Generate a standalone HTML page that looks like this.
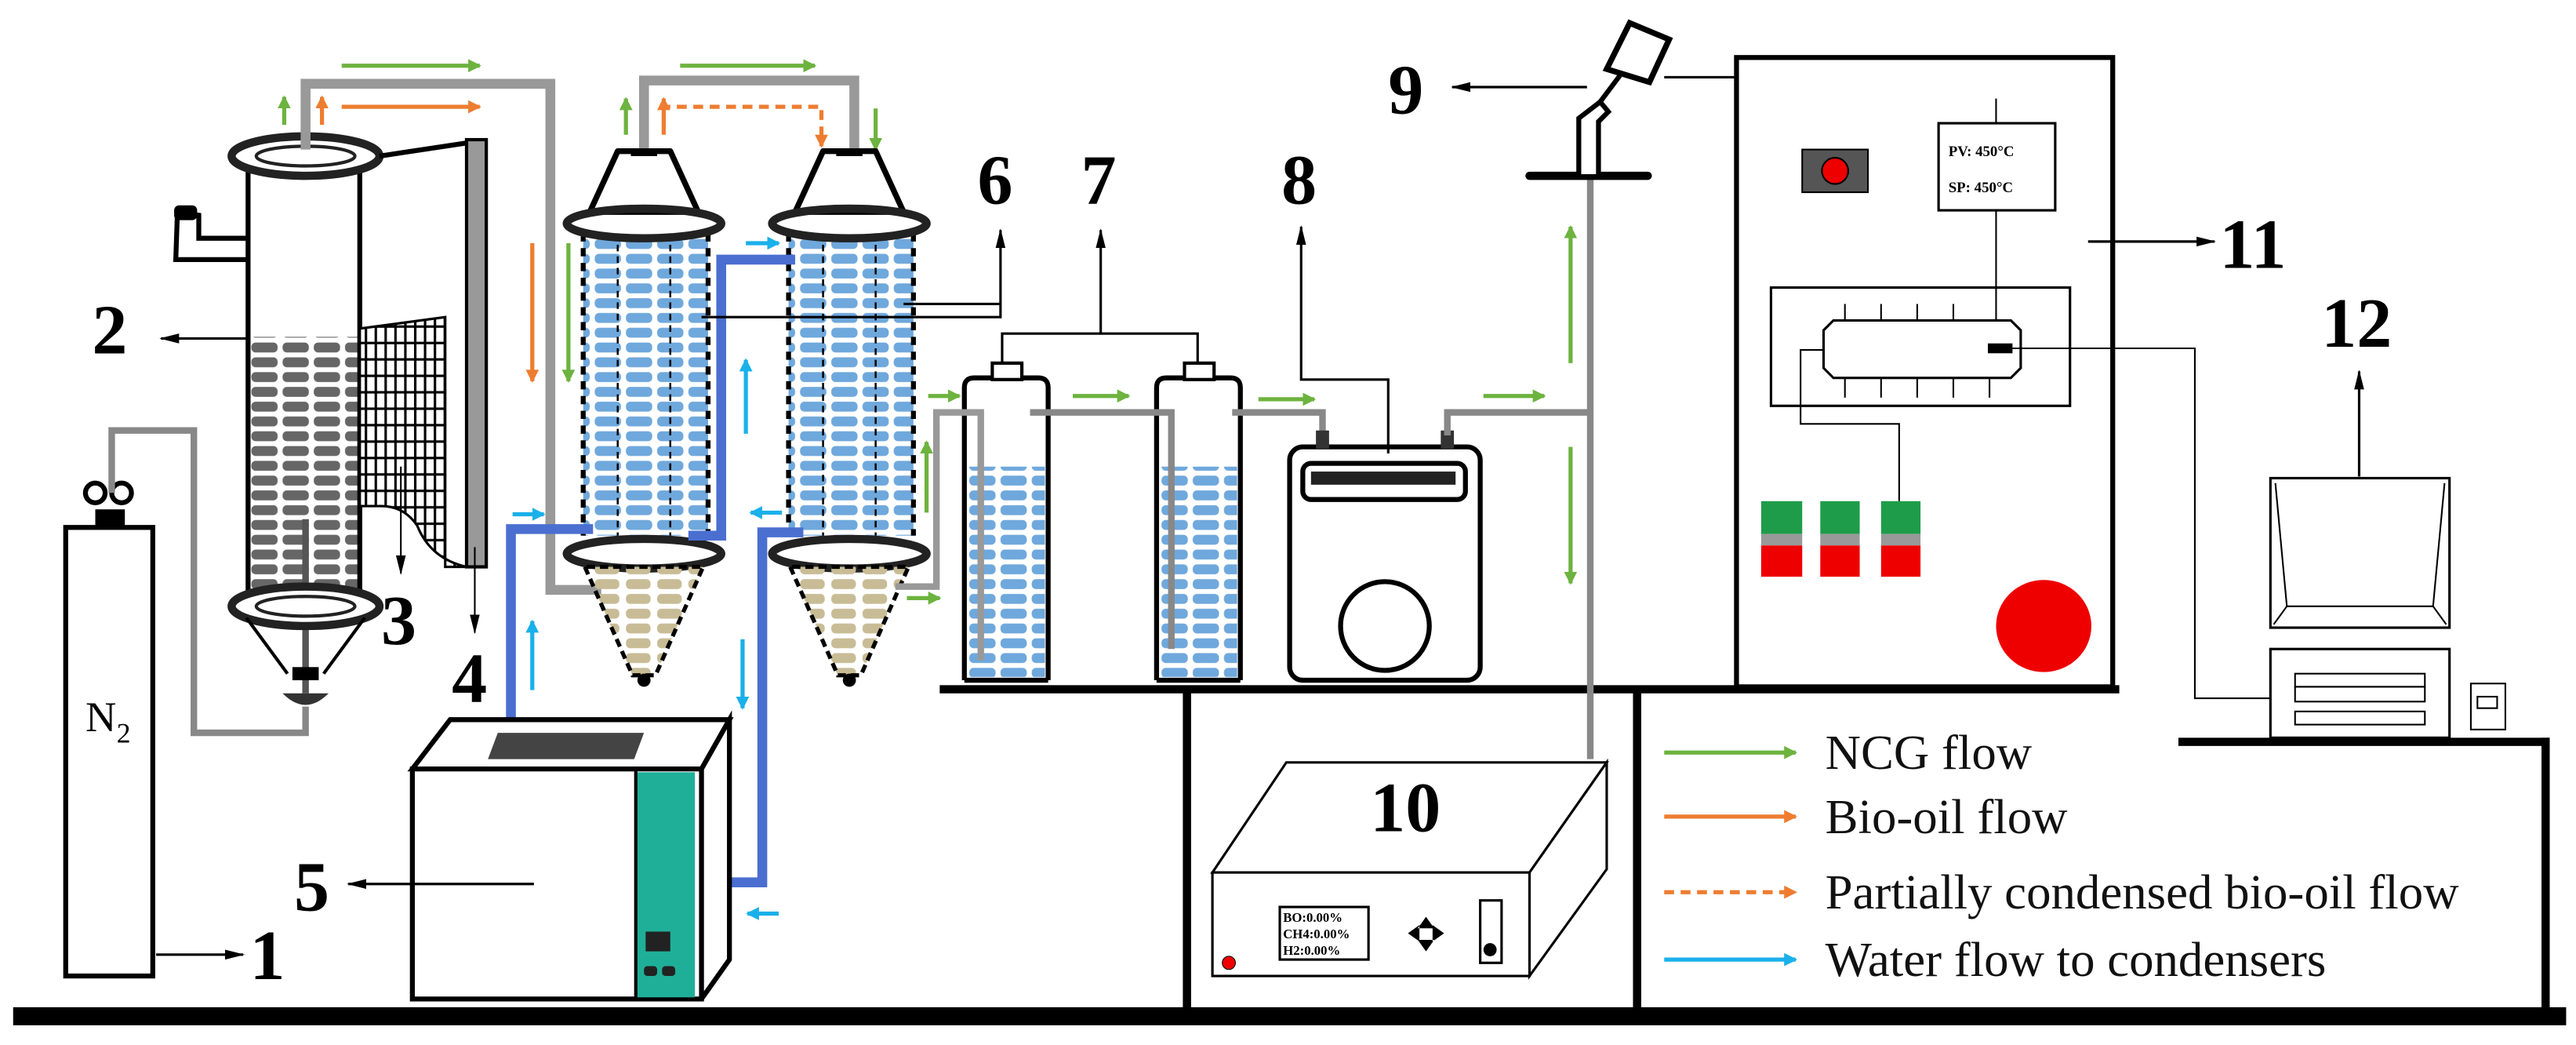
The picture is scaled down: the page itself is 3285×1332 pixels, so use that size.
<!DOCTYPE html>
<html><head><meta charset="utf-8"><style>
html,body{margin:0;padding:0;background:#fff;}
svg{display:block;}
text{font-family:"Liberation Serif",serif;}
.n{font-weight:bold;font-size:43px;fill:#000;}
.lg{font-size:30px;fill:#111;}
</style></head><body>
<svg width="3285" height="1332" viewBox="0 0 1568 636" preserveAspectRatio="none" xmlns="http://www.w3.org/2000/svg">
<defs>
<marker id="mg" markerWidth="8" markerHeight="8" refX="7" refY="4" orient="auto" markerUnits="userSpaceOnUse"><path d="M0,0 L8,4 L0,8 Z" fill="#6db33f"/></marker>
<marker id="mo" markerWidth="8" markerHeight="8" refX="7" refY="4" orient="auto" markerUnits="userSpaceOnUse"><path d="M0,0 L8,4 L0,8 Z" fill="#ee7d31"/></marker>
<marker id="mc" markerWidth="8" markerHeight="8" refX="7" refY="4" orient="auto" markerUnits="userSpaceOnUse"><path d="M0,0 L8,4 L0,8 Z" fill="#1ab0ea"/></marker>
<marker id="mk" markerWidth="12" markerHeight="8" refX="11" refY="4" orient="auto" markerUnits="userSpaceOnUse"><path d="M0,1 L12,4 L0,7 Z" fill="#000"/></marker>
<pattern id="pb" width="19" height="9" patternUnits="userSpaceOnUse"><rect x="1" y="1.5" width="16" height="6" rx="2.5" fill="#6fa8dc"/></pattern>
<pattern id="pg" width="19" height="9" patternUnits="userSpaceOnUse"><rect x="1" y="1.5" width="16" height="6" rx="2.5" fill="#666"/></pattern>
<pattern id="pt" width="19" height="9" patternUnits="userSpaceOnUse"><rect x="1" y="1.5" width="15" height="6" rx="2.5" fill="#c8bc96"/></pattern>
<pattern id="pgrid" width="6" height="10" patternUnits="userSpaceOnUse"><rect width="6" height="10" fill="#fff"/><rect x="0" y="0" width="1.5" height="10" fill="#000"/><rect x="0" y="8" width="6" height="1.5" fill="#000"/></pattern>
</defs>

<!-- floor & shelves -->
<rect x="8" y="613" width="1554" height="11" fill="#000"/>
<rect x="572" y="417" width="718" height="5" fill="#000"/>
<rect x="720" y="420" width="5" height="196" fill="#000"/>
<rect x="994" y="420" width="5" height="196" fill="#000"/>
<rect x="1326" y="449" width="226" height="5" fill="#000"/>
<rect x="1547" y="449" width="5" height="166" fill="#000"/>

<!-- N2 cylinder -->
<rect x="40" y="321" width="53" height="273" fill="#fff" stroke="#000" stroke-width="3"/>
<rect x="58" y="310" width="18" height="11" fill="#000"/>
<circle cx="58" cy="300" r="6" fill="none" stroke="#000" stroke-width="3"/>
<circle cx="74" cy="300" r="6" fill="none" stroke="#000" stroke-width="3"/>
<path d="M68,300 L68,262 L118,262 L118,446 L186,446 L186,430" fill="none" stroke="#888" stroke-width="4"/>
<text x="52" y="445" font-size="26" fill="#000">N</text><text x="71" y="452" font-size="17" fill="#000">2</text>
<line x1="95" y1="581" x2="148" y2="581" stroke="#000" stroke-width="1.5" marker-end="url(#mk)"/>
<text class="n" x="152" y="596">1</text>

<!-- Reactor -->
<rect x="151" y="205" width="68" height="156" fill="url(#pg)"/>
<line x1="151" y1="103" x2="151" y2="365" stroke="#000" stroke-width="3"/>
<line x1="219" y1="103" x2="219" y2="365" stroke="#000" stroke-width="3"/>
<path d="M151,145 L121,145 L121,131 L108,129 L107,158 L151,158" fill="none" stroke="#000" stroke-width="3"/>
<rect x="106" y="125" width="14" height="9" rx="3" fill="#000"/>
<ellipse cx="186" cy="95" rx="45" ry="12" fill="#fff" stroke="#222" stroke-width="5"/>
<ellipse cx="186" cy="95" rx="30" ry="6" fill="none" stroke="#222" stroke-width="2"/>
<line x1="186" y1="316" x2="186" y2="422" stroke="#555" stroke-width="4"/>
<ellipse cx="186" cy="369" rx="45" ry="12" fill="#fff" stroke="#222" stroke-width="5"/>
<ellipse cx="186" cy="369" rx="30" ry="6" fill="none" stroke="#222" stroke-width="2"/>
<path d="M150,376 L175,410 M222,376 L197,410" stroke="#000" stroke-width="2"/>
<rect x="178" y="406" width="16" height="8" fill="#000"/>
<path d="M172,422 Q186,436 200,422 Z" fill="#333"/>
<!-- furnace -->
<line x1="231" y1="95" x2="284" y2="87" stroke="#000" stroke-width="3"/>
<rect x="284" y="85" width="12" height="260" fill="#999" stroke="#000" stroke-width="2"/>
<path d="M219,200 L271,193 L271,345 L284,345 Q262,340 254,320 Q246,308 232,308 L219,308 Z" fill="url(#pgrid)" stroke="#000" stroke-width="1.5"/>
<line x1="244" y1="284" x2="244" y2="349" stroke="#000" stroke-width="1" marker-end="url(#mk)"/>
<line x1="289" y1="333" x2="289" y2="385" stroke="#000" stroke-width="1" marker-end="url(#mk)"/>
<line x1="150" y1="206" x2="98" y2="206" stroke="#000" stroke-width="1.5" marker-end="url(#mk)"/>
<text class="n" x="56" y="215">2</text>
<text class="n" x="232" y="392">3</text>
<text class="n" x="275" y="427">4</text>

<!-- main gray pipes -->
<path d="M186,91 L186,51 L335,51 L335,359 L366,359" fill="none" stroke="#999" stroke-width="6"/>
<path d="M392,91 L392,49 L520,49 L520,91" fill="none" stroke="#999" stroke-width="6"/>
<line x1="208" y1="40" x2="292" y2="40" stroke="#6db33f" stroke-width="2.5" marker-end="url(#mg)"/>
<line x1="208" y1="65" x2="292" y2="65" stroke="#ee7d31" stroke-width="2.5" marker-end="url(#mo)"/>
<line x1="173" y1="76" x2="173" y2="59" stroke="#6db33f" stroke-width="2.5" marker-end="url(#mg)"/>
<line x1="196" y1="76" x2="196" y2="59" stroke="#ee7d31" stroke-width="2.5" marker-end="url(#mo)"/>
<line x1="324" y1="148" x2="324" y2="232" stroke="#ee7d31" stroke-width="2.5" marker-end="url(#mo)"/>
<line x1="346" y1="148" x2="346" y2="232" stroke="#6db33f" stroke-width="2.5" marker-end="url(#mg)"/>
<line x1="414" y1="40" x2="496" y2="40" stroke="#6db33f" stroke-width="2.5" marker-end="url(#mg)"/>
<path d="M402,65 L500,65 L500,89" fill="none" stroke="#ee7d31" stroke-width="2.5" stroke-dasharray="6,4" marker-end="url(#mo)"/>
<line x1="381" y1="82" x2="381" y2="60" stroke="#6db33f" stroke-width="2.5" marker-end="url(#mg)"/>
<line x1="404" y1="82" x2="404" y2="60" stroke="#ee7d31" stroke-width="2.5" marker-end="url(#mo)"/>
<line x1="533" y1="66" x2="533" y2="91" stroke="#6db33f" stroke-width="2.5" marker-end="url(#mg)"/>

<!-- condensers -->
<g id="c1">
<path d="M376,92 L408,92 L425,129 L359,129 Z" fill="#fff" stroke="#000" stroke-width="3.5" stroke-linejoin="round"/>
<rect x="384" y="92" width="16" height="3" fill="#000"/>
<rect x="355" y="144" width="76" height="182" fill="url(#pb)"/>
<line x1="355" y1="142" x2="355" y2="326" stroke="#000" stroke-width="3" stroke-dasharray="5,4"/>
<line x1="431" y1="142" x2="431" y2="326" stroke="#000" stroke-width="3" stroke-dasharray="5,4"/>
<line x1="376" y1="142" x2="376" y2="326" stroke="#000" stroke-width="1.2" stroke-dasharray="4,3"/>
<line x1="408" y1="142" x2="408" y2="326" stroke="#000" stroke-width="1.2" stroke-dasharray="4,3"/>
<ellipse cx="392" cy="136" rx="47" ry="9" fill="none" stroke="#222" stroke-width="5"/>
<ellipse cx="392" cy="337" rx="47" ry="9" fill="none" stroke="#222" stroke-width="5"/>
<path d="M356,345 L385,411 L399,411 L428,345 Z" fill="url(#pt)" stroke="#000" stroke-width="2.5" stroke-dasharray="5,3"/>
<circle cx="392" cy="414" r="4" fill="#000"/>
</g>
<use href="#c1" x="125"/>

<!-- blue water pipes -->
<path d="M311,438 L311,322 L361,322" fill="none" stroke="#4a6fd0" stroke-width="6"/>
<path d="M419,326 L439,326 L439,158 L484,158" fill="none" stroke="#4a6fd0" stroke-width="6"/>
<path d="M489,324 L464,324 L464,537 L442,537" fill="none" stroke="#4a6fd0" stroke-width="6"/>
<line x1="324" y1="420" x2="324" y2="378" stroke="#1ab0ea" stroke-width="2.5" marker-end="url(#mc)"/>
<line x1="312" y1="313" x2="331" y2="313" stroke="#1ab0ea" stroke-width="2.5" marker-end="url(#mc)"/>
<line x1="454" y1="264" x2="454" y2="219" stroke="#1ab0ea" stroke-width="2.5" marker-end="url(#mc)"/>
<line x1="454" y1="148" x2="474" y2="148" stroke="#1ab0ea" stroke-width="2.5" marker-end="url(#mc)"/>
<line x1="476" y1="312" x2="457" y2="312" stroke="#1ab0ea" stroke-width="2.5" marker-end="url(#mc)"/>
<line x1="452" y1="389" x2="452" y2="431" stroke="#1ab0ea" stroke-width="2.5" marker-end="url(#mc)"/>
<line x1="474" y1="556" x2="455" y2="556" stroke="#1ab0ea" stroke-width="2.5" marker-end="url(#mc)"/>

<!-- chiller 5 -->
<path d="M251,468 L274,438 L444,438 L427,468 Z" fill="#fff" stroke="#000" stroke-width="3"/>
<path d="M427,468 L444,438 L444,584 L427,608" fill="#fff" stroke="#000" stroke-width="3"/>
<path d="M303,446 L392,446 L386,462 L297,462 Z" fill="#444"/>
<rect x="251" y="468" width="176" height="140" fill="#fff" stroke="#000" stroke-width="3"/>
<rect x="387" y="470" width="36" height="137" fill="#1faf98"/>
<line x1="387" y1="468" x2="387" y2="608" stroke="#000" stroke-width="2"/>
<rect x="393" y="567" width="15" height="12" fill="#222"/>
<rect x="392" y="588" width="8" height="6" rx="2" fill="#222"/><rect x="403" y="588" width="8" height="6" rx="2" fill="#222"/>
<line x1="325" y1="538" x2="212" y2="538" stroke="#000" stroke-width="1.5" marker-end="url(#mk)"/>
<text class="n" x="179" y="554">5</text>

<!-- labels 6 & 7 -->
<path d="M427,193 L609,193 L609,140" fill="none" stroke="#000" stroke-width="1.5" marker-end="url(#mk)"/>
<line x1="550" y1="185" x2="609" y2="185" stroke="#000" stroke-width="1.5"/>
<text class="n" x="595" y="124">6</text>
<path d="M610,221 L610,203 L729,203 L729,221" fill="none" stroke="#000" stroke-width="1.5"/>
<line x1="670" y1="203" x2="670" y2="140" stroke="#000" stroke-width="1.5" marker-end="url(#mk)"/>
<text class="n" x="658" y="124">7</text>

<!-- bottles -->
<g id="b1">
<rect x="589" y="284" width="47" height="128" fill="url(#pb)"/>
<path d="M587,414 L587,236 Q587,230 593,230 L632,230 Q638,230 638,236 L638,414" fill="none" stroke="#000" stroke-width="3"/>
<line x1="587" y1="414" x2="638" y2="414" stroke="#000" stroke-width="3"/>
<rect x="604" y="221" width="18" height="10" fill="#fff" stroke="#000" stroke-width="2"/>
</g>
<use href="#b1" x="117"/>
<path d="M545,357 L570,357 L570,251 L597,251 L597,402" fill="none" stroke="#999" stroke-width="4"/>
<path d="M627,251 L713,251 L713,395" fill="none" stroke="#888" stroke-width="4"/>
<path d="M750,251 L805,251 L805,265" fill="none" stroke="#888" stroke-width="4"/>
<line x1="565" y1="241" x2="584" y2="241" stroke="#6db33f" stroke-width="2.5" marker-end="url(#mg)"/>
<line x1="653" y1="241" x2="687" y2="241" stroke="#6db33f" stroke-width="2.5" marker-end="url(#mg)"/>
<line x1="766" y1="243" x2="800" y2="243" stroke="#6db33f" stroke-width="2.5" marker-end="url(#mg)"/>
<line x1="552" y1="364" x2="572" y2="364" stroke="#6db33f" stroke-width="2.5" marker-end="url(#mg)"/>
<line x1="564" y1="312" x2="564" y2="269" stroke="#6db33f" stroke-width="2.5" marker-end="url(#mg)"/>

<!-- pump 8 -->
<rect x="785" y="272" width="116" height="142" rx="8" fill="#fff" stroke="#000" stroke-width="3"/>
<rect x="793" y="282" width="99" height="22" rx="5" fill="#fff" stroke="#000" stroke-width="3"/>
<rect x="798" y="287" width="88" height="8" fill="#222"/>
<circle cx="843" cy="381" r="27" fill="none" stroke="#000" stroke-width="3"/>
<rect x="801" y="262" width="8" height="11" fill="#333"/><rect x="877" y="262" width="8" height="11" fill="#333"/>
<path d="M881,265 L881,251 L968,251" fill="none" stroke="#888" stroke-width="4"/>
<path d="M845,276 L845,231 L792,231 L792,138" fill="none" stroke="#000" stroke-width="1.5" marker-end="url(#mk)"/>
<text class="n" x="780" y="124">8</text>
<line x1="903" y1="241" x2="940" y2="241" stroke="#6db33f" stroke-width="2.5" marker-end="url(#mg)"/>

<!-- vertical pipe + 9 -->
<line x1="968" y1="100" x2="968" y2="462" stroke="#888" stroke-width="4"/>
<line x1="956" y1="221" x2="956" y2="138" stroke="#6db33f" stroke-width="2.5" marker-end="url(#mg)"/>
<line x1="956" y1="272" x2="956" y2="355" stroke="#6db33f" stroke-width="2.5" marker-end="url(#mg)"/>
<line x1="931" y1="107" x2="1003" y2="107" stroke="#000" stroke-width="5" stroke-linecap="round"/>
<path d="M961,106 L961,72 L974,62 L979,68 L973,74 L973,106" fill="#fff" stroke="#000" stroke-width="3"/>
<path d="M978,42 L992,14 L1016,24 L1004,50 Z" fill="#fff" stroke="#000" stroke-width="3.5"/>
<path d="M974,62 L986,46" stroke="#000" stroke-width="3"/>
<line x1="966" y1="53" x2="884" y2="53" stroke="#000" stroke-width="1.5" marker-end="url(#mk)"/>
<text class="n" x="845" y="69">9</text>
<path d="M1013,47 L1116,47 L1116,91" fill="none" stroke="#000" stroke-width="1.5"/>

<!-- analyzer 10 -->
<path d="M738,531 L783,464 L978,464 L931,531 Z" fill="#fff" stroke="#000" stroke-width="1.5"/>
<path d="M931,531 L978,464 L978,529 L931,594 Z" fill="#fff" stroke="#000" stroke-width="1.5"/>
<rect x="738" y="531" width="193" height="63" fill="#fff" stroke="#000" stroke-width="1.5"/>
<text class="n" x="834" y="506">10</text>
<rect x="779" y="552" width="54" height="32" fill="#fff" stroke="#000" stroke-width="1.5"/>
<text x="781" y="561" font-size="8" font-weight="bold" font-family="Liberation Sans">BO:0.00%</text>
<text x="781" y="571" font-size="8" font-weight="bold" font-family="Liberation Sans">CH4:0.00%</text>
<text x="781" y="581" font-size="8" font-weight="bold" font-family="Liberation Sans">H2:0.00%</text>
<circle cx="748" cy="586" r="4" fill="#e00" stroke="#000" stroke-width="0.5"/>
<path d="M868,558 L863,565 L873,565 Z M868,579 L863,572 L873,572 Z M857,568 L864,563 L864,573 Z M879,568 L872,563 L872,573 Z" fill="#000"/>
<rect x="901" y="548" width="13" height="38" fill="#fff" stroke="#000" stroke-width="1.5"/>
<circle cx="907" cy="578" r="4" fill="#000"/>

<!-- panel 11 -->
<rect x="1057" y="35" width="229" height="383" fill="#fff" stroke="#000" stroke-width="3"/>
<rect x="1097" y="91" width="40" height="26" fill="#555" stroke="#000" stroke-width="1"/>
<circle cx="1117" cy="104" r="8" fill="#e00" stroke="#000" stroke-width="1"/>
<rect x="1180" y="75" width="71" height="53" fill="#fff" stroke="#000" stroke-width="1.5"/>
<text x="1186" y="95" font-size="9" font-weight="bold" font-family="Liberation Sans">PV: 450°C</text>
<text x="1186" y="117" font-size="9" font-weight="bold" font-family="Liberation Sans">SP: 450°C</text>
<line x1="1215" y1="60" x2="1215" y2="75" stroke="#000" stroke-width="1"/>
<line x1="1215" y1="128" x2="1215" y2="210" stroke="#000" stroke-width="1"/>
<rect x="1078" y="175" width="182" height="72" fill="none" stroke="#000" stroke-width="1.5"/>
<path d="M1116,195 L1224,195 L1230,201 L1230,224 L1224,230 L1116,230 L1110,224 L1110,201 Z" fill="#fff" stroke="#000" stroke-width="1.5"/>
<g stroke="#000" stroke-width="1">
<line x1="1123" y1="185" x2="1123" y2="195"/><line x1="1145" y1="185" x2="1145" y2="195"/><line x1="1167" y1="185" x2="1167" y2="195"/><line x1="1189" y1="185" x2="1189" y2="195"/>
<line x1="1123" y1="230" x2="1123" y2="242"/><line x1="1145" y1="230" x2="1145" y2="242"/><line x1="1167" y1="230" x2="1167" y2="242"/><line x1="1189" y1="230" x2="1189" y2="242"/><line x1="1211" y1="230" x2="1211" y2="242"/>
</g>
<rect x="1210" y="209" width="15" height="6" fill="#000"/>
<path d="M1225,212 L1336,212 L1336,425 L1382,425" fill="none" stroke="#000" stroke-width="1"/>
<path d="M1110,213 L1096,213 L1096,258 L1156,258 L1156,305" fill="none" stroke="#000" stroke-width="1"/>
<g>
<rect x="1072" y="305" width="25" height="20" fill="#1e9c4a"/><rect x="1072" y="325" width="25" height="7" fill="#999"/><rect x="1072" y="332" width="25" height="19" fill="#e00"/>
<rect x="1108" y="305" width="24" height="20" fill="#1e9c4a"/><rect x="1108" y="325" width="24" height="7" fill="#999"/><rect x="1108" y="332" width="24" height="19" fill="#e00"/>
<rect x="1145" y="305" width="24" height="20" fill="#1e9c4a"/><rect x="1145" y="325" width="24" height="7" fill="#999"/><rect x="1145" y="332" width="24" height="19" fill="#e00"/>
</g>
<ellipse cx="1244" cy="381" rx="29" ry="28" fill="#e00"/>
<line x1="1271" y1="147" x2="1348" y2="147" stroke="#000" stroke-width="1.5" marker-end="url(#mk)"/>
<text class="n" x="1351" y="163">11</text>

<!-- computer 12 -->
<rect x="1382" y="291" width="109" height="91" fill="#fff" stroke="#000" stroke-width="1.5"/>
<path d="M1385,294 L1392,369 L1481,369 L1488,294 M1392,369 L1384,380 M1481,369 L1489,380" fill="none" stroke="#000" stroke-width="1"/>
<line x1="1436" y1="290" x2="1436" y2="226" stroke="#000" stroke-width="1.5" marker-end="url(#mk)"/>
<text class="n" x="1413" y="211">12</text>
<rect x="1382" y="395" width="109" height="54" fill="#fff" stroke="#000" stroke-width="1.5"/>
<rect x="1397" y="410" width="79" height="8" fill="#fff" stroke="#000" stroke-width="1"/>
<rect x="1397" y="418" width="79" height="9" fill="#fff" stroke="#000" stroke-width="1"/>
<rect x="1397" y="433" width="79" height="8" fill="#fff" stroke="#000" stroke-width="1"/>
<rect x="1504" y="416" width="21" height="28" fill="#fff" stroke="#000" stroke-width="1"/>
<rect x="1508" y="424" width="12" height="7" fill="#fff" stroke="#000" stroke-width="1"/>

<!-- legend -->
<line x1="1013" y1="458" x2="1093" y2="458" stroke="#6db33f" stroke-width="2.5" marker-end="url(#mg)"/>
<text class="lg" x="1111" y="468">NCG flow</text>
<line x1="1013" y1="497" x2="1093" y2="497" stroke="#ee7d31" stroke-width="2.5" marker-end="url(#mo)"/>
<text class="lg" x="1111" y="507">Bio-oil flow</text>
<line x1="1013" y1="543" x2="1093" y2="543" stroke="#ee7d31" stroke-width="2.5" stroke-dasharray="6,4" marker-end="url(#mo)"/>
<text class="lg" x="1111" y="553">Partially condensed bio-oil flow</text>
<line x1="1013" y1="584" x2="1093" y2="584" stroke="#1ab0ea" stroke-width="2.5" marker-end="url(#mc)"/>
<text class="lg" x="1111" y="594">Water flow to condensers</text>
</svg>
</body></html>
